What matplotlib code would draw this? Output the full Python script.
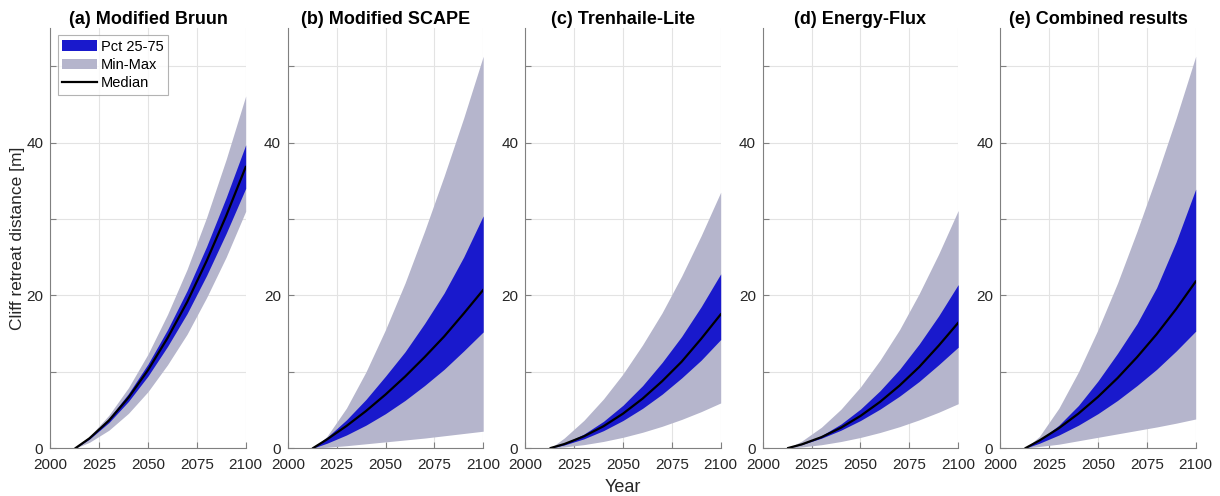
import numpy as np
import matplotlib.pyplot as plt

plt.rcParams['font.family'] = ['Liberation Sans', 'DejaVu Sans']

years = [2013, 2020, 2030, 2040, 2050, 2060, 2070, 2080, 2090, 2100]

titles = ['(a) Modified Bruun', '(b) Modified SCAPE', '(c) Trenhaile-Lite',
          '(d) Energy-Flux', '(e) Combined results']

# (a) Modified Bruun
bruun_min = [0, 0.74, 2.33, 4.54, 7.38, 10.9, 14.9, 19.7, 25.0, 31.0]
bruun_p25 = [0, 1.16, 3.33, 6.10, 9.42, 13.3, 17.6, 22.6, 28.1, 34.0]
bruun_med = [0, 1.26, 3.60, 6.60, 10.2, 14.4, 19.1, 24.5, 30.4, 36.8]
bruun_p75 = [0, 1.36, 3.88, 7.12, 11.0, 15.5, 20.6, 26.4, 32.8, 39.7]
bruun_max = [0, 1.49, 4.30, 7.90, 12.3, 17.5, 23.4, 30.2, 37.8, 46.1]

# (b) Modified SCAPE
scape_min = [0, 0.10, 0.30, 0.55, 0.80, 1.05, 1.30, 1.60, 1.90, 2.2]
scape_p25 = [0, 0.62, 1.70, 2.99, 4.50, 6.23, 8.18, 10.3, 12.7, 15.2]
scape_med = [0, 1.12, 2.88, 4.84, 7.00, 9.35, 11.9, 14.6, 17.6, 20.7]
scape_p75 = [0, 1.38, 3.68, 6.36, 9.41, 12.6, 16.3, 20.3, 25.0, 30.4]
scape_max = [0, 1.51, 5.22, 9.97, 15.5, 21.6, 28.4, 35.6, 43.2, 51.3]

# (c) Trenhaile-Lite
tren_min = [0, 0.14, 0.44, 0.86, 1.40, 2.06, 2.84, 3.74, 4.76, 5.9]
tren_p25 = [0, 0.40, 1.20, 2.27, 3.60, 5.19, 7.04, 9.17, 11.5, 14.2]
tren_med = [0, 0.52, 1.53, 2.85, 4.50, 6.46, 8.74, 11.3, 14.3, 17.5]
tren_p75 = [0, 0.60, 1.82, 3.49, 5.60, 8.16, 11.2, 14.6, 18.5, 22.8]
tren_max = [0, 1.32, 3.62, 6.42, 9.70, 13.5, 17.7, 22.5, 27.8, 33.5]

# (d) Energy-Flux
flux_min = [0, 0.14, 0.43, 0.85, 1.38, 2.03, 2.79, 3.68, 4.68, 5.8]
flux_p25 = [0, 0.45, 1.28, 2.33, 3.60, 5.09, 6.79, 8.71, 10.9, 13.2]
flux_med = [0, 0.48, 1.42, 2.66, 4.20, 6.04, 8.18, 10.6, 13.4, 16.4]
flux_p75 = [0, 0.51, 1.61, 3.14, 5.10, 7.50, 10.3, 13.6, 17.3, 21.4]
flux_max = [0, 0.92, 2.72, 5.08, 8.00, 11.5, 15.5, 20.2, 25.4, 31.1]

# (e) Combined results
comb_min = [0, 0.20, 0.50, 0.95, 1.40, 1.85, 2.30, 2.75, 3.25, 3.8]
comb_p25 = [0, 0.62, 1.70, 2.99, 4.50, 6.23, 8.18, 10.3, 12.7, 15.3]
comb_med = [0, 0.98, 2.60, 4.51, 6.70, 9.16, 11.9, 14.9, 18.2, 21.8]
comb_p75 = [0, 1.02, 2.99, 5.57, 8.78, 12.4, 16.3, 21.0, 27.0, 33.9]
comb_max = [0, 1.51, 5.22, 9.97, 15.5, 21.6, 28.4, 35.6, 43.2, 51.3]

panels = [
    (bruun_min, bruun_p25, bruun_med, bruun_p75, bruun_max),
    (scape_min, scape_p25, scape_med, scape_p75, scape_max),
    (tren_min, tren_p25, tren_med, tren_p75, tren_max),
    (flux_min, flux_p25, flux_med, flux_p75, flux_max),
    (comb_min, comb_p25, comb_med, comb_p75, comb_max),
]

blue = '#1919cc'
grey = '#b5b5cc'
axcol = '#808080'
txtcol = '#262626'

fig = plt.figure(figsize=(12.2, 4.96), dpi=100)

for i, (lo, q1, med, q3, hi) in enumerate(panels):
    ax = fig.add_axes([(50.3 + 237.5 * i) / 1220, 48 / 496, 195.4 / 1220, 420 / 496])
    ax.fill_between(years, lo, hi, color=grey, lw=0, label='Min-Max')
    ax.fill_between(years, q1, q3, color=blue, lw=0, label='Pct 25-75')
    ax.plot(years, med, color='black', lw=1.6, label='Median')

    ax.set_xlim(2000, 2100)
    ax.set_ylim(0, 55)
    ax.set_xticks([2000, 2025, 2050, 2075, 2100])
    ax.set_yticks([0, 10, 20, 30, 40, 50])
    ax.set_yticklabels(['0', '', '20', '', '40', ''])
    ax.grid(True, color='#e3e3e3', lw=0.8)
    ax.set_axisbelow(True)
    for s in ['top', 'right']:
        ax.spines[s].set_visible(False)
    for s in ['left', 'bottom']:
        ax.spines[s].set_color(axcol)
        ax.spines[s].set_linewidth(0.8)
    ax.tick_params(direction='in', length=4, width=0.8, color=axcol,
                   labelcolor=txtcol, labelsize=11)
    ax.tick_params(axis='x', pad=7)
    ax.tick_params(axis='y', pad=5)
    ax.set_title(titles[i], fontsize=13, fontweight='bold', pad=3)

    if i == 0:
        ax.set_ylabel('Cliff retreat distance [m]', fontsize=12.5, color=txtcol, labelpad=1)
        h, l = ax.get_legend_handles_labels()
        order = [1, 0, 2]
        leg = ax.legend([h[k] for k in order], [l[k] for k in order], loc='upper left',
                        fontsize=10.5, frameon=True, fancybox=False, borderaxespad=0.5,
                        handlelength=2.4, handletextpad=0.25, borderpad=0.3,
                        labelspacing=0.3)
        leg.get_frame().set_edgecolor('#a0a0a0')
        leg.get_frame().set_linewidth(0.8)
    if i == 2:
        ax.set_xlabel('Year', fontsize=13, color=txtcol, labelpad=5)

fig.savefig('out.png', dpi=100)
